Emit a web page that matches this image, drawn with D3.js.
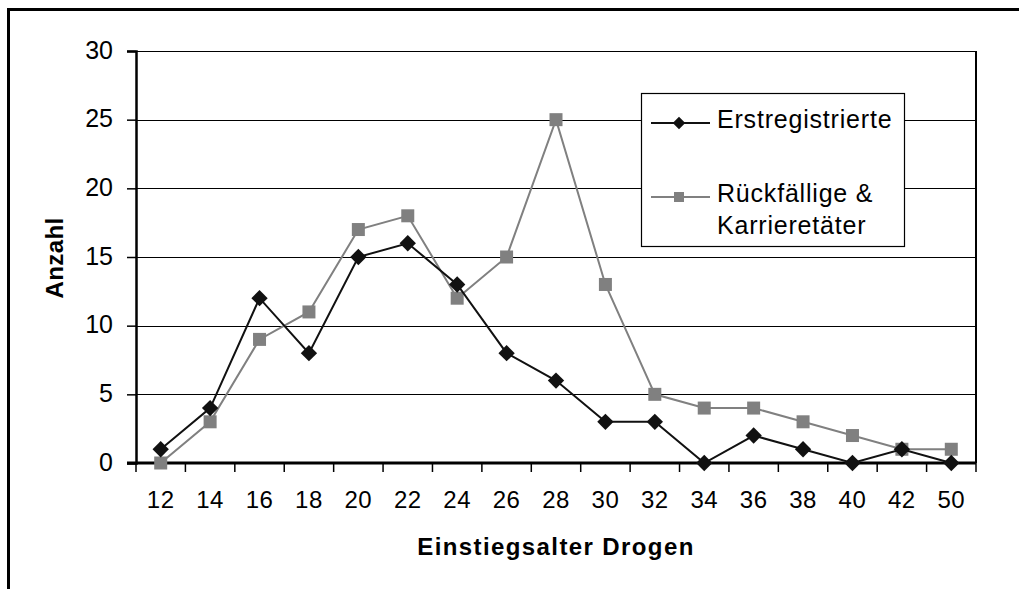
<!DOCTYPE html>
<html>
<head>
<meta charset="utf-8">
<script src="https://cdn.jsdelivr.net/npm/d3@7"></script>
<style>
	body { margin: 0; background: #fff; }
	svg text { font-family: "Liberation Sans", Arial, sans-serif; fill: #000; }
</style>
</head>
<body>
<svg id="chart" width="1019" height="589"></svg>
<script>
//------------------------------------------------------------------------------
// Data

var ages = ['12', '14', '16', '18', '20', '22', '24', '26', '28', '30', '32', '34', '36', '38', '40', '42', '50'];
var erstregistrierte = [1, 4, 12, 8, 15, 16, 13, 8, 6, 3, 3, 0, 2, 1, 0, 1, 0];
var rueckfaellige = [0, 3, 9, 11, 17, 18, 12, 15, 25, 13, 5, 4, 4, 3, 2, 1, 1];
var yTicks = [0, 5, 10, 15, 20, 25, 30];

//------------------------------------------------------------------------------
// Layout

var svg = d3.select('#chart');
var plotL = 136, plotR = 976, plotT = 51, plotB = 463;

var x = d3.scaleBand().domain(ages).range([plotL, plotR]);
var y = d3.scaleLinear().domain([0, 30]).range([plotB, plotT]);
var bw = x.bandwidth();

// outer frame
svg.append('rect')
	.attr('x', 8.5).attr('y', 9.5)
	.attr('width', 1030).attr('height', 600)
	.attr('fill', 'none').attr('stroke', '#000').attr('stroke-width', 3);

// gridlines
svg.append('g').selectAll('line')
	.data(yTicks.slice(1))
	.enter().append('line')
		.attr('x1', plotL).attr('x2', plotR)
		.attr('y1', function (d) { return Math.round(y(d)) + 0.5; })
		.attr('y2', function (d) { return Math.round(y(d)) + 0.5; })
		.attr('stroke', '#000').attr('stroke-width', 1.2);

// right border of plot area
svg.append('line')
	.attr('x1', plotR).attr('x2', plotR)
	.attr('y1', plotT).attr('y2', plotB)
	.attr('stroke', '#000').attr('stroke-width', 2);

// y axis
var yAxis = svg.append('g')
	.attr('transform', 'translate(' + plotL + ',0)')
	.call(d3.axisLeft(y).tickValues(yTicks).tickSize(9).tickPadding(14));
yAxis.select('.domain').attr('stroke-width', 2.5);
yAxis.selectAll('.tick line').attr('stroke-width', 1.5);
yAxis.selectAll('text')
	.attr('font-size', 25)
	.attr('dy', '0.28em')
	.attr('font-family', '"Liberation Sans", Arial, sans-serif');

// x axis, ticks between categories
var xAxisG = svg.append('g');
xAxisG.append('line')
	.attr('x1', plotL - 9).attr('x2', plotR)
	.attr('y1', plotB).attr('y2', plotB)
	.attr('stroke', '#000').attr('stroke-width', 3);
xAxisG.selectAll('line.tk')
	.data(d3.range(ages.length + 1))
	.enter().append('line')
		.attr('class', 'tk')
		.attr('x1', function (i) { return plotL + i * bw; })
		.attr('x2', function (i) { return plotL + i * bw; })
		.attr('y1', plotB).attr('y2', plotB + 9)
		.attr('stroke', '#000').attr('stroke-width', 1.5);
xAxisG.selectAll('text')
	.data(ages)
	.enter().append('text')
		.attr('x', function (d) { return x(d) + bw / 2; })
		.attr('y', 508)
		.attr('text-anchor', 'middle')
		.attr('font-size', 24)
		.attr('letter-spacing', 0.5)
		.text(function (d) { return d; });

// axis titles
svg.append('text')
	.attr('x', (plotL + plotR) / 2).attr('y', 555)
	.attr('text-anchor', 'middle')
	.attr('font-size', 24).attr('font-weight', 'bold')
	.attr('letter-spacing', 1.4)
	.text('Einstiegsalter Drogen');

svg.append('text')
	.attr('transform', 'translate(63,258) rotate(-90)')
	.attr('text-anchor', 'middle')
	.attr('font-size', 24).attr('font-weight', 'bold')
	.attr('letter-spacing', 0.4)
	.text('Anzahl');

//------------------------------------------------------------------------------
// Series

var line = d3.line()
	.x(function (d, i) { return x(ages[i]) + bw / 2; })
	.y(function (d) { return y(d); });

var diamond = d3.symbol().type(d3.symbolDiamond2).size(170);

function drawSeries(values, color, width, marker)
{
	var g = svg.append('g');
	g.append('path')
		.datum(values)
		.attr('d', line)
		.attr('fill', 'none')
		.attr('stroke', color)
		.attr('stroke-width', width);
	var pts = g.selectAll('.pt')
		.data(values)
		.enter();
	if (marker == 'diamond')
		pts.append('path')
			.attr('d', diamond)
			.attr('transform', function (d, i) { return 'translate(' + (x(ages[i]) + bw / 2) + ',' + y(d) + ')'; })
			.attr('fill', color);
	else
		pts.append('rect')
			.attr('x', function (d, i) { return x(ages[i]) + bw / 2 - 6.5; })
			.attr('y', function (d) { return y(d) - 6.5; })
			.attr('width', 13).attr('height', 13)
			.attr('fill', color);
}

drawSeries(rueckfaellige, '#808080', 2, 'square');
drawSeries(erstregistrierte, '#111', 2, 'diamond');

//------------------------------------------------------------------------------
// Legend

var lg = svg.append('g');
lg.append('rect')
	.attr('x', 641.5).attr('y', 93.5)
	.attr('width', 263).attr('height', 153)
	.attr('fill', '#fff').attr('stroke', '#000').attr('stroke-width', 1.2);

var legendItems = [
	{ name: ['Erstregistrierte'], color: '#111', marker: 'diamond', y: 123 },
	{ name: ['Rückfällige &', 'Karrieretäter'], color: '#808080', marker: 'square', y: 197 }
];

legendItems.forEach(function (it) {
	lg.append('line')
		.attr('x1', 651).attr('x2', 710)
		.attr('y1', it.y).attr('y2', it.y)
		.attr('stroke', it.color).attr('stroke-width', 2);
	if (it.marker == 'diamond')
		lg.append('path')
			.attr('d', d3.symbol().type(d3.symbolDiamond2).size(100))
			.attr('transform', 'translate(679,' + it.y + ')')
			.attr('fill', it.color);
	else
		lg.append('rect')
			.attr('x', 674).attr('y', it.y - 5)
			.attr('width', 10).attr('height', 10)
			.attr('fill', it.color);
	it.name.forEach(function (t, k) {
		lg.append('text')
			.attr('x', 717).attr('y', it.y + 5 + k * 32)
			.attr('font-size', 25)
			.attr('letter-spacing', 0.8)
			.text(t);
	});
});
</script>
</body>
</html>
